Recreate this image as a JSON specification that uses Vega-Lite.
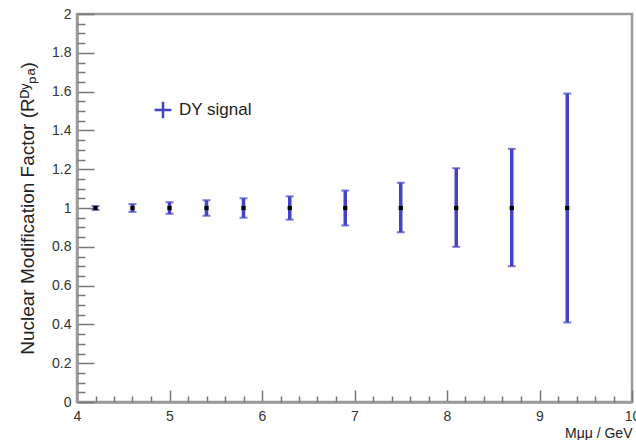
{
  "$schema": "https://vega.github.io/schema/vega-lite/v6.json",
  "autosize": "none",
  "width": 555,
  "height": 388,
  "padding": {"left": 77, "top": 14, "right": 4, "bottom": 38},
  "background": "white",
  "config": {
    "view": {"stroke": "#9a9a9a", "strokeWidth": 2.5},
    "font": "Liberation Sans",
    "axis": {"grid": false, "domainColor": "#9a9a9a", "domainWidth": 2.5, "tickColor": "#777", "tickWidth": 1.5, "labelFont": "Liberation Sans", "labelFontSize": 14, "labelColor": "#333", "labelFlush": false, "titleFont": "Liberation Sans", "titleFontWeight": "normal", "titleColor": "#222"}
  },
  "data": {"values": [
    {"m": 4.2, "r": 1, "lo": 0.99, "hi": 1.01},
    {"m": 4.6, "r": 1, "lo": 0.98, "hi": 1.02},
    {"m": 5.0, "r": 1, "lo": 0.97, "hi": 1.03},
    {"m": 5.4, "r": 1, "lo": 0.96, "hi": 1.04},
    {"m": 5.8, "r": 1, "lo": 0.95, "hi": 1.05},
    {"m": 6.3, "r": 1, "lo": 0.94, "hi": 1.06},
    {"m": 6.9, "r": 1, "lo": 0.91, "hi": 1.09},
    {"m": 7.5, "r": 1, "lo": 0.875, "hi": 1.13},
    {"m": 8.1, "r": 1, "lo": 0.80, "hi": 1.205},
    {"m": 8.7, "r": 1, "lo": 0.70, "hi": 1.305},
    {"m": 9.3, "r": 1, "lo": 0.41, "hi": 1.59}
  ]},
  "layer": [
    {
      "mark": {"type": "rule", "strokeWidth": 3.5},
      "encoding": {
        "x": {"field": "m", "type": "quantitative", "scale": {"domain": [4, 10], "nice": false, "zero": false},
          "axis": {"orient": "bottom", "values": [4,5,6,7,8,9,10], "tickSize": -12, "labelPadding": 19, "format": "~r", "title": "Mμμ / GeV", "titleAnchor": "end", "titleFontSize": 14, "titlePadding": 3}},
        "y": {"field": "lo", "type": "quantitative", "scale": {"domain": [0, 2], "nice": false},
          "axis": {"orient": "left", "values": [0,0.2,0.4,0.6,0.8,1,1.2,1.4,1.6,1.8,2], "tickSize": -17, "labelPadding": 23, "format": "~r", "title": "Nuclear Modification Factor (Rᴰʸₚₐ)", "titleFontSize": 19, "titlePadding": 14}},
        "y2": {"field": "hi"},
        "color": {"datum": "DY signal", "type": "nominal", "scale": {"range": ["#4343c4"]},
          "legend": {"title": null, "orient": "none", "legendX": 76, "legendY": 86, "symbolType": "M-1,0H1M0,-1V1", "symbolSize": 280, "symbolStrokeWidth": 2.5, "symbolStrokeColor": "#4343c4", "labelFontSize": 17, "labelColor": "#222", "labelFont": "Liberation Sans", "labelOffset": 6}}
      }
    },
    {
      "mark": {"type": "tick", "orient": "horizontal", "size": 8, "thickness": 2, "color": "#4343c4"},
      "encoding": {"x": {"field": "m", "type": "quantitative", "axis": null}, "y": {"field": "lo", "type": "quantitative", "axis": null}}
    },
    {
      "mark": {"type": "tick", "orient": "horizontal", "size": 8, "thickness": 2, "color": "#4343c4"},
      "encoding": {"x": {"field": "m", "type": "quantitative", "axis": null}, "y": {"field": "hi", "type": "quantitative", "axis": null}}
    },
    {
      "mark": {"type": "square", "size": 18, "filled": true, "color": "black", "opacity": 1},
      "encoding": {"x": {"field": "m", "type": "quantitative", "axis": null}, "y": {"field": "r", "type": "quantitative", "axis": null}}
    },
    {
      "data": {"values": [{"t": 0}]},
      "mark": {"type": "rule", "opacity": 0},
      "encoding": {
        "x": {"datum": 4, "type": "quantitative", "axis": {"orient": "bottom", "values": [4.2,4.4,4.6,4.8,5.2,5.4,5.6,5.8,6.2,6.4,6.6,6.8,7.2,7.4,7.6,7.8,8.2,8.4,8.6,8.8,9.2,9.4,9.6,9.8], "tickSize": -6, "labels": false, "domain": false, "title": null}},
        "y": {"datum": 0, "type": "quantitative", "axis": {"orient": "left", "values": [0.05,0.1,0.15,0.25,0.3,0.35,0.45,0.5,0.55,0.65,0.7,0.75,0.85,0.9,0.95,1.05,1.1,1.15,1.25,1.3,1.35,1.45,1.5,1.55,1.65,1.7,1.75,1.85,1.9,1.95], "tickSize": -8, "labels": false, "domain": false, "title": null}}
      }
    }
  ],
  "resolve": {"axis": {"x": "independent", "y": "independent"}}
}
